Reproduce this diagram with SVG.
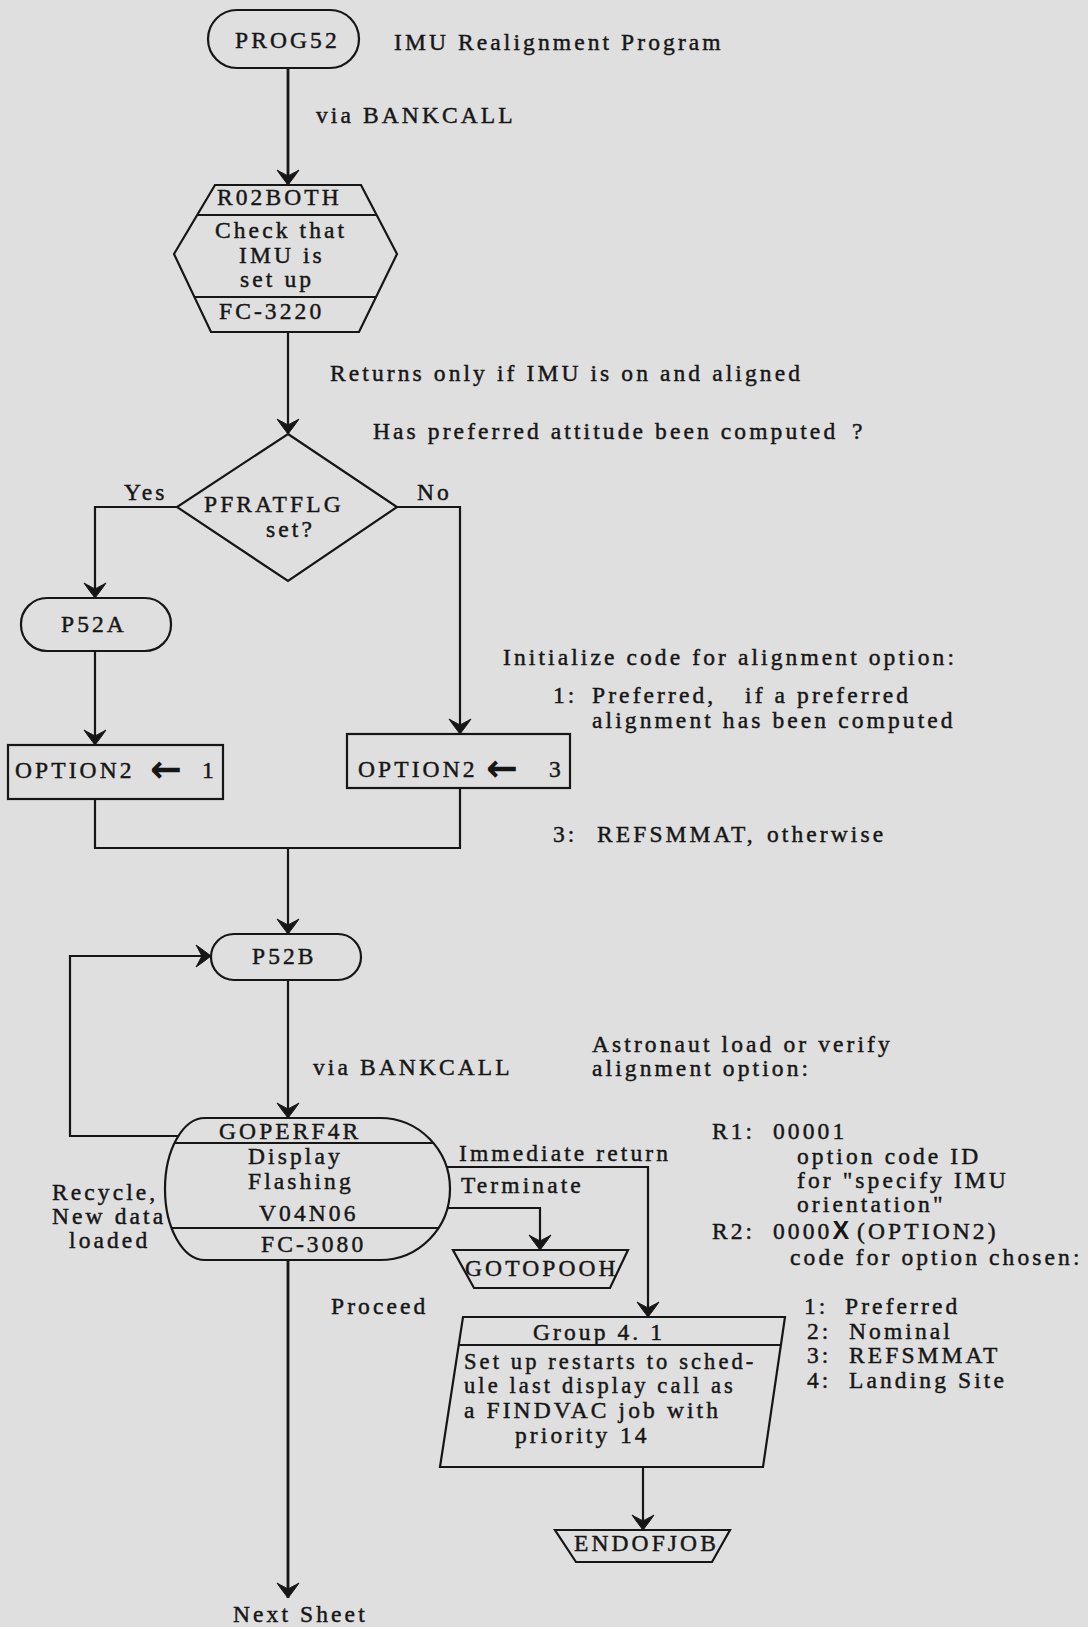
<svg xmlns="http://www.w3.org/2000/svg" width="1088" height="1627" viewBox="0 0 1088 1627">
  <defs>
    <style>
      .t { font-family: "Liberation Serif", "Times New Roman", serif; font-size: 23.5px; letter-spacing: 3.1px; fill: #161616; stroke: #161616; stroke-width: 0.45px; }
      .tight { font-size: 22.5px; }
      .arr { font-family: "DejaVu Sans", sans-serif; font-weight: bold; letter-spacing: 0; stroke-width: 0; }
      .bx { font-family: "Liberation Sans", "DejaVu Sans", sans-serif; font-weight: bold; letter-spacing: 0; stroke-width: 0; }
      .s { fill: none; stroke: #161616; stroke-width: 2.2; stroke-linejoin: miter; }
      .c { fill: none; stroke: #161616; stroke-width: 2.2; }
      .heavy { stroke-width: 2.8; }
      .a { marker-end: url(#ah); }
    </style>
    <!-- filled arrowhead with a shallow notch, tip at origin pointing along +x -->
    <marker id="ah" viewBox="-16 -12 17 24" refX="0" refY="0" markerWidth="17" markerHeight="24" markerUnits="userSpaceOnUse" orient="auto">
      <path d="M0,0 C-4,-3 -9,-7 -15,-11 C-12,-6 -11,-3 -9,0 C-11,3 -12,6 -15,11 C-9,7 -4,3 0,0 Z" fill="#161616" stroke="#161616" stroke-width="1"/>
    </marker>
  </defs>

  <rect x="0" y="0" width="1088" height="1627" fill="#dfdfdf"/>

  <!-- connectors -->
  <g id="connectors">
    <path class="c heavy a" d="M288,68 V185"/>
    <path class="c a" d="M288,332 V434"/>
    <path class="c a" d="M177,507 H95 V598"/>
    <path class="c a" d="M397,507 H460 V734"/>
    <path class="c a" d="M95,651 V745"/>
    <path class="c" d="M95,799 V848 H460 V788"/>
    <path class="c a" d="M288,848 V934"/>
    <path class="c a" d="M288,980 V1118"/>
    <path class="c a" d="M178,1136 H70 V956 H211"/>
    <path class="c a" d="M446,1167 H648 V1317"/>
    <path class="c a" d="M447,1208 H540 V1250"/>
    <path class="c a" d="M643,1467 V1530"/>
    <path class="c heavy a" d="M288,1260 V1598"/>
  </g>

  <!-- start terminal -->
  <g id="prog52">
    <rect class="s" x="208" y="10" width="151" height="58" rx="29" ry="29"/>
    <text class="t" x="235" y="48">PROG52</text>
  </g>
  <text class="t" x="394" y="50">IMU Realignment Program</text>
  <text class="t" x="316" y="123">via BANKCALL</text>

  <!-- R02BOTH subroutine -->
  <g id="r02both">
    <path class="s" d="M215,185 L361,185 L397,254 L359,332 L211,332 L174,254 Z"/>
    <path class="s" d="M197,215 H377 M194,297 H376"/>
    <text class="t" x="217" y="205">R02BOTH</text>
    <text class="t" x="215" y="238">Check that</text>
    <text class="t" x="239" y="263">IMU is</text>
    <text class="t" x="240" y="287">set up</text>
    <text class="t" x="219" y="319">FC-3220</text>
  </g>
  <text class="t" x="330" y="381">Returns only if IMU is on and aligned</text>
  <text class="t" y="439"><tspan x="373">Has preferred attitude been computed</tspan><tspan x="852">?</tspan></text>

  <!-- PFRATFLG decision -->
  <g id="pfratflg">
    <path class="s" d="M288,434 L397,507 L288,581 L177,507 Z"/>
    <text class="t" x="204" y="512">PFRATFLG</text>
    <text class="t" x="266" y="537">set?</text>
  </g>
  <text class="t" x="124" y="500">Yes</text>
  <text class="t" x="417" y="500">No</text>

  <!-- P52A entry -->
  <g id="p52a">
    <rect class="s" x="21" y="598" width="150" height="53" rx="26" ry="26"/>
    <text class="t" x="61" y="632">P52A</text>
  </g>

  <!-- option assignments -->
  <g id="option1">
    <rect class="s" x="8" y="745" width="215" height="54"/>
    <text class="t" y="778"><tspan x="15">OPTION2</tspan><tspan class="arr" x="150" y="782" font-size="38">←</tspan><tspan x="202" y="778">1</tspan></text>
  </g>
  <g id="option3">
    <rect class="s" x="347" y="734" width="223" height="54"/>
    <text class="t" y="777"><tspan x="358">OPTION2</tspan><tspan class="arr" x="486" y="781" font-size="38">←</tspan><tspan x="549" y="777">3</tspan></text>
  </g>
  <text class="t" x="503" y="665">Initialize code for alignment option:</text>
  <text class="t" y="703"><tspan x="553">1:</tspan><tspan x="592">Preferred,</tspan><tspan x="745">if a preferred</tspan></text>
  <text class="t" x="592" y="728">alignment has been computed</text>
  <text class="t" y="842"><tspan x="553">3:</tspan><tspan x="597">REFSMMAT,</tspan><tspan x="767">otherwise</tspan></text>

  <!-- P52B entry -->
  <g id="p52b">
    <rect class="s" x="211" y="934" width="150" height="46" rx="23" ry="23"/>
    <text class="t" x="252" y="964">P52B</text>
  </g>
  <text class="t" x="313" y="1075">via BANKCALL</text>
  <text class="t" x="592" y="1052">Astronaut load or verify</text>
  <text class="t" x="592" y="1076">alignment option:</text>

  <!-- GOPERF4R display -->
  <g id="goperf4r">
    <path class="s" d="M205,1118 H380 A70,71 0 0 1 380,1260 H205 A40,71 0 0 1 205,1118 Z"/>
    <path class="s" d="M175,1143 H433 M172,1228 H438"/>
    <text class="t" x="219" y="1139">GOPERF4R</text>
    <text class="t" x="248" y="1164">Display</text>
    <text class="t" x="248" y="1189">Flashing</text>
    <text class="t" x="259" y="1221">V04N06</text>
    <text class="t" x="261" y="1252">FC-3080</text>
  </g>
  <text class="t" x="459" y="1161">Immediate return</text>
  <text class="t" x="461" y="1193">Terminate</text>
  <text class="t" x="52" y="1200">Recycle,</text>
  <text class="t" x="52" y="1224">New data</text>
  <text class="t" x="69" y="1248">loaded</text>
  <text class="t" x="331" y="1314">Proceed</text>

  <!-- GOTOPOOH exit -->
  <g id="gotopooh">
    <path class="s" d="M453,1250 H628 L610,1288 H474 Z"/>
    <text class="t" x="465" y="1276">GOTOPOOH</text>
  </g>

  <!-- Group 4.1 restart setup -->
  <g id="group41">
    <path class="s" d="M463,1317 H785 L763,1467 H440 Z"/>
    <path class="s" d="M459,1345 H781"/>
    <text class="t" x="533" y="1340">Group 4. 1</text>
    <text class="t tight" x="464" y="1369" letter-spacing="3.6">Set up restarts to sched-</text>
    <text class="t tight" x="464" y="1393" letter-spacing="3.6">ule last display call as</text>
    <text class="t" x="464" y="1418">a FINDVAC job with</text>
    <text class="t" y="1443"><tspan x="515">priority</tspan><tspan x="620">14</tspan></text>
  </g>

  <!-- ENDOFJOB exit -->
  <g id="endofjob">
    <path class="s" d="M555,1530 H730 L712,1562 H576 Z"/>
    <text class="t" x="574" y="1551">ENDOFJOB</text>
  </g>
  <text class="t" x="233" y="1622">Next Sheet</text>

  <!-- register notes -->
  <text class="t" y="1139"><tspan x="712">R1:</tspan><tspan x="773">00001</tspan></text>
  <text class="t" x="797" y="1164">option code ID</text>
  <text class="t" x="797" y="1188">for "specify IMU</text>
  <text class="t" x="797" y="1212">orientation"</text>
  <text class="t" y="1239"><tspan x="712">R2:</tspan><tspan x="773">0000</tspan><tspan class="bx" font-size="25">X</tspan><tspan dx="8">(OPTION2)</tspan></text>
  <text class="t" x="790" y="1265">code for option chosen:</text>
  <text class="t" y="1314"><tspan x="804">1:</tspan><tspan x="845">Preferred</tspan></text>
  <text class="t" y="1339"><tspan x="807">2:</tspan><tspan x="849">Nominal</tspan></text>
  <text class="t" y="1363"><tspan x="807">3:</tspan><tspan x="849">REFSMMAT</tspan></text>
  <text class="t" y="1388"><tspan x="807">4:</tspan><tspan x="849">Landing Site</tspan></text>
</svg>
